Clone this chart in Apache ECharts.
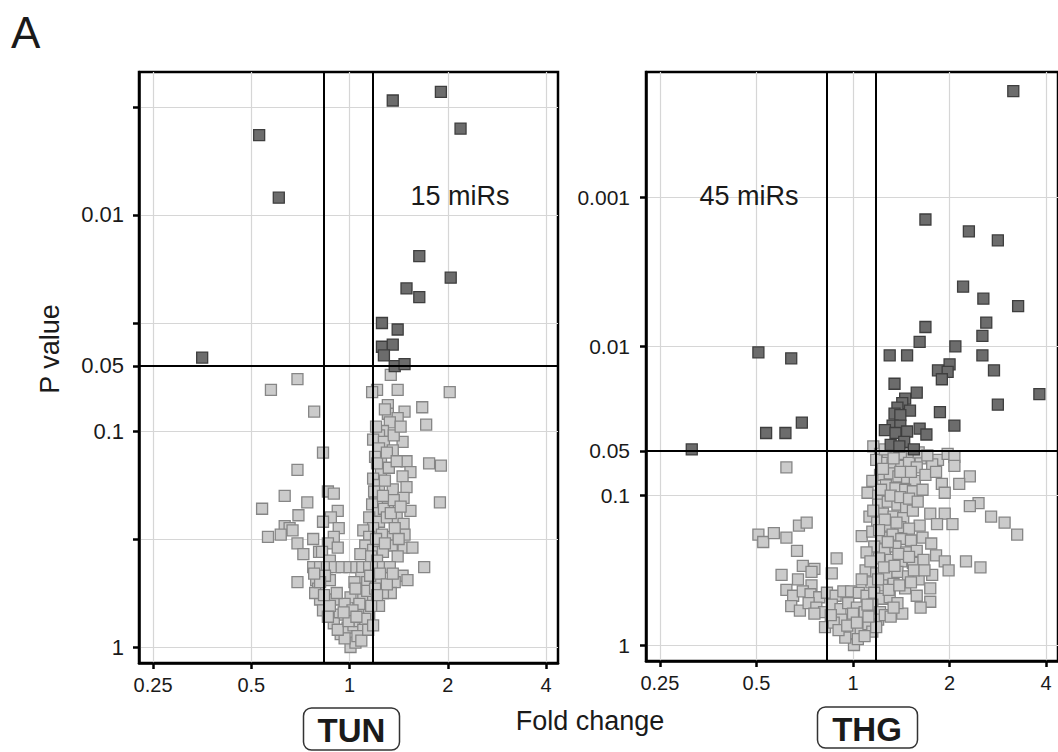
<!DOCTYPE html>
<html><head><meta charset="utf-8">
<script src="https://cdn.jsdelivr.net/npm/echarts@6/dist/echarts.min.js"></script>
<style>html,body{margin:0;padding:0;background:#fff}#c{width:1058px;height:752px}</style>
</head><body><div id="c"></div><script>
// ---- tick values / labels (x: log2 fold change, y: -log10 P) ----
const xTickValues = [-2, -1, 0, 1, 2];
const xTickLabels = ['0.25', '0.5', '1', '2', '4'];
const tunYTickValues = [0, 0.5, 1, 1.301, 1.5, 2, 2.5];
const tunYLabelValues = [0, 1, 1.301, 2];
const thgYTickValues = [0, 1, 1.301, 2, 3];
const thgYLabelValues = [0, 1, 1.301, 2, 3];
const yLabelValues = [0, 1, 1.301, 2, 3];
const yLabelTexts = ['1', '0.1', '0.05', '0.01', '0.001'];
// ---- cutoffs ----
const tunFcCutoffs = [-0.255, 0.245];
const thgFcCutoffs = [-0.267, 0.236];
const pCutoff = 1.301;
// ---- annotations ----
const tunCount = '15 miRs';
const thgCount = '45 miRs';

// ---- TUN panel: [log2 fold change, -log10 P] ----
const tunSig = [
[0.44,2.53],[0.93,2.57],[1.13,2.40],[-0.92,2.37],[-0.72,2.08],[0.71,1.81],[1.03,1.71],[0.58,1.66],
[0.71,1.62],[0.33,1.50],[0.49,1.47],[0.33,1.39],[0.44,1.40],[0.35,1.35],[0.46,1.30],[0.56,1.31],[-1.50,1.34]
];
const tunNonSig = [
[-0.53,1.24],[-0.80,1.19],[-0.36,1.09],[0.42,1.26],[0.28,1.19],[0.23,1.18],[0.49,1.19],[1.02,1.18],
[0.74,1.11],[0.39,1.12],[0.56,1.09],[0.39,1.08],[0.49,1.06],[0.41,1.04],[0.78,1.03],[0.34,1.00],[0.30,0.98],
[0.24,0.96],[0.54,0.95],[0.35,0.95],[0.44,0.91],[0.30,0.92],[-0.27,0.90],[0.58,0.86],[0.81,0.85],[0.93,0.84],
[0.62,0.81],[-0.53,0.82],[0.32,0.86],[0.32,0.81],[0.24,0.78],[0.54,0.79],[0.40,0.83],[0.26,0.88],[0.58,0.74],
[0.44,0.73],[0.30,0.75],[0.36,0.77],
[-0.66,0.70],[-0.22,0.72],[-0.16,0.71],[-0.43,0.67],[-0.89,0.64],[0.55,0.69],[0.92,0.67],[0.39,0.67],
[0.62,0.63],[-0.52,0.61],[-0.12,0.63],[-0.19,0.60],[-0.27,0.58],[-0.11,0.55],[-0.66,0.56],[-0.61,0.55],
[0.26,0.70],[0.23,0.66],[0.29,0.62],[0.35,0.64],[0.45,0.68],[0.48,0.60],[0.20,0.60],[0.30,0.58],[0.38,0.60],
[0.55,0.57],[0.24,0.55],
[-0.83,0.51],[-0.53,0.48],[-0.37,0.50],[-0.47,0.43],[-0.31,0.44],[-0.16,0.51],[-0.22,0.48],[0.14,0.54],
[0.20,0.51],[0.39,0.51],[0.56,0.52],[0.55,0.46],[0.64,0.46],[0.16,0.47],[0.24,0.45],[0.30,0.49],[0.43,0.47],
[0.34,0.44],[-0.12,0.46],[-0.70,0.52],[-0.58,0.54],[0.11,0.43],[0.49,0.42],[0.33,0.52],[0.46,0.55],[-0.28,0.44],
[-0.20,0.40],[0.22,0.42],[0.28,0.40],
[-0.37,0.37],[-0.30,0.37],[-0.23,0.37],[-0.15,0.37],[-0.08,0.37],[0.00,0.37],[0.07,0.37],[0.13,0.37],
[0.20,0.37],[0.27,0.37],[0.34,0.37],[0.41,0.37],[0.76,0.37],[0.54,0.33],[0.59,0.31],[-0.53,0.30],[-0.34,0.31],
[-0.32,0.27],[-0.20,0.31],[0.12,0.32],[0.18,0.30],[0.27,0.31],[0.46,0.30],[-0.25,0.33],[0.05,0.30],
[-0.30,0.22],[-0.35,0.25],[-0.27,0.17],[-0.16,0.22],[0.01,0.23],[0.14,0.23],[0.24,0.22],[0.42,0.25],
[0.34,0.25],[0.06,0.27],[0.18,0.26],[0.30,0.19],[-0.05,0.20],[0.09,0.18],[-0.10,0.15],[0.20,0.15],[0.00,0.14],
[0.10,0.20],[-0.20,0.19],[0.22,0.19],[0.03,0.17],[-0.13,0.25],[0.26,0.27],
[-0.16,0.11],[-0.09,0.06],[0.01,0.00],[0.06,0.02],[-0.02,0.09],[0.04,0.10],[0.10,0.12],[0.14,0.08],
[-0.05,0.04],[0.08,0.05],[-0.12,0.08],[0.16,0.13],[0.12,0.03],[-0.01,0.12],[0.19,0.08],
[0.27,1.02],[0.36,1.10],[0.45,0.98],[0.52,1.02],[0.28,0.85],[0.38,0.90],[0.48,0.86],[0.25,0.72],[0.34,0.70],
[0.42,0.62],[0.52,0.65],[0.27,0.50],[0.36,0.48],[0.50,0.50],[0.21,0.33],[0.31,0.34],[0.38,0.29],[0.44,0.34],
[-0.30,0.30],[-0.36,0.34],[-0.26,0.24],[-0.22,0.14],[0.28,0.24],[0.24,0.10],[-0.06,0.16],[0.07,0.14]
];

// ---- THG panel: [log2 fold change, -log10 P] ----
const thgSig = [
[1.66,3.71],[0.75,2.85],[1.20,2.77],[1.50,2.71],[1.14,2.40],[1.35,2.32],[1.71,2.27],[1.38,2.16],
[0.75,2.13],[0.69,2.03],[1.34,2.07],[1.06,2.00],[0.38,1.94],[0.56,1.94],[1.34,1.94],[-0.98,1.96],
[-0.64,1.92],[1.00,1.88],[0.88,1.84],[0.98,1.83],[0.92,1.78],[1.46,1.84],[0.43,1.75],[0.66,1.69],
[1.93,1.68],[1.50,1.61],[0.54,1.65],[0.51,1.62],[0.46,1.59],[0.59,1.57],[0.90,1.56],[0.43,1.55],
[-0.53,1.49],[0.49,1.54],[1.05,1.47],[0.41,1.47],[0.49,1.47],[0.33,1.44],[0.44,1.42],[0.56,1.43],
[0.69,1.45],[0.76,1.41],[0.53,1.36],[0.39,1.34],[0.48,1.33],[0.63,1.31],[-0.90,1.42],[-0.70,1.42],[-1.67,1.31]
];
const thgNonSig = [
[0.21,1.33],[-0.69,1.19],[0.28,1.28],[0.36,1.27],[0.45,1.29],[0.53,1.28],[0.61,1.27],[0.70,1.25],
[0.32,1.22],[0.41,1.21],[0.50,1.20],[0.58,1.22],[0.66,1.19],[0.88,1.24],[0.98,1.28],[1.05,1.26],[1.05,1.20],
[0.82,1.21],[1.21,1.13],[0.92,1.08],[0.95,1.02],[1.10,1.08],[0.28,1.14],[0.38,1.15],[0.47,1.13],[0.56,1.12],
[0.64,1.10],[0.75,1.14],[0.34,1.07],[0.44,1.05],[0.54,1.04],[0.62,1.03],[0.72,1.04],[0.15,1.02],[0.26,1.00],
[1.30,0.95],[1.21,0.93],[1.43,0.86],[1.57,0.82],[1.70,0.74],[0.95,0.88],[1.03,0.81],[0.80,0.88],[0.87,0.81],
[0.69,0.80],[0.17,0.86],[0.26,0.94],[0.36,0.96],[0.46,0.94],[0.55,0.92],[0.31,0.88],[0.42,0.86],[0.52,0.85],
[0.62,0.90],[0.25,0.82],[0.38,0.80],[0.49,0.79],[0.58,0.78],
[0.09,0.73],[0.20,0.76],[0.30,0.72],[0.41,0.74],[0.50,0.71],[0.60,0.70],[0.72,0.72],[0.81,0.68],[0.22,0.66],
[0.33,0.64],[0.44,0.66],[0.55,0.62],[0.66,0.63],[0.14,0.62],[0.27,0.58],[0.39,0.57],[0.50,0.56],[0.62,0.55],
[0.73,0.57],[0.86,0.60],
[-0.98,0.74],[-0.93,0.69],[-0.82,0.75],[-0.69,0.72],[-0.56,0.80],[-0.48,0.82],[-0.58,0.63],[-0.52,0.53],
[-0.40,0.51],[-0.43,0.49],[-0.17,0.58],[-0.74,0.47],[-0.57,0.44],[-0.22,0.48],[-0.43,0.40],
[1.17,0.56],[1.32,0.52],[0.95,0.56],[0.99,0.50],[0.13,0.50],[0.24,0.48],[0.35,0.46],[0.46,0.49],[0.57,0.46],
[0.68,0.44],[0.82,0.47],[0.19,0.42],[0.30,0.40],[0.42,0.41],[0.54,0.38],[0.80,0.38],[0.80,0.29],[0.09,0.44],
[-0.69,0.37],[-0.62,0.33],[-0.52,0.36],[-0.44,0.34],[-0.35,0.32],[-0.27,0.35],[-0.18,0.33],[-0.10,0.36],
[-0.02,0.36],[0.06,0.35],[0.14,0.33],[0.22,0.35],[0.30,0.31],[0.38,0.32],[-0.64,0.26],[-0.55,0.23],[-0.46,0.28],
[-0.38,0.25],[-0.30,0.22],[-0.22,0.27],[-0.13,0.24],[-0.05,0.28],[0.04,0.25],[0.12,0.22],[0.20,0.27],
[0.28,0.22],[0.70,0.25],[0.51,0.21],[0.46,0.28],
[-0.12,0.17],[-0.29,0.12],[-0.20,0.15],[-0.02,0.08],[0.01,0.00],[0.08,0.10],[0.26,0.17],[0.33,0.20],
[0.39,0.19],[0.16,0.14],[0.20,0.09],[-0.08,0.05],[0.05,0.04],[-0.15,0.10],[0.12,0.06],[0.24,0.12],
[0.24,1.24],[0.33,1.31],[0.42,1.25],[0.49,1.16],[0.60,1.16],[0.68,1.29],[0.77,1.27],[0.86,1.16],[0.31,1.18],
[0.20,1.10],[0.29,1.04],[0.39,1.00],[0.49,0.99],[0.58,0.98],[0.67,0.96],[0.21,0.90],[0.33,0.84],[0.45,0.82],
[0.27,0.77],[0.36,0.69],[0.47,0.61],[0.58,0.59],[0.18,0.56],[0.32,0.52],[0.43,0.53],[0.63,0.50],[0.74,0.50],
[0.26,0.44],[0.37,0.37],[0.48,0.40],[0.60,0.42],[0.66,0.33],[0.42,0.25],[-0.40,0.21],[-0.23,0.20],[0.00,0.21],
[0.16,0.19],[-0.06,0.13],[0.04,0.15],[0.15,0.27]
];

const FONT = '"Liberation Sans", Arial, sans-serif';
const TXT = '#1a1a1a';
const xFmt = v => { const i = xTickValues.indexOf(Math.round(v)); return i >= 0 ? xTickLabels[i] : ''; };
const yFmt = v => { for (let i = 0; i < yLabelValues.length; i++) if (Math.abs(v - yLabelValues[i]) < 1e-6) return yLabelTexts[i]; return ''; };

function xAxisFor(gi, min, max) {
  return {
    type: 'value', gridIndex: gi, min: min, max: max,
    axisLine: { show: true, onZero: false, lineStyle: { color: '#000', width: 2.5 } },
    axisTick: { show: true, customValues: xTickValues, length: 6, lineStyle: { color: '#000', width: 2.5 } },
    axisLabel: { customValues: xTickValues, formatter: xFmt, margin: 12, fontSize: 20, fontFamily: FONT, color: TXT },
    splitLine: { show: true, lineStyle: { color: '#d6d6d6', width: 1.2 } }
  };
}
function yAxisFor(gi, min, max, ticks, labels, margin, fs) {
  return {
    type: 'value', gridIndex: gi, min: min, max: max,
    axisLine: { show: true, onZero: false, lineStyle: { color: '#000', width: 2.5 } },
    axisTick: { show: true, customValues: ticks, length: 6, lineStyle: { color: '#000', width: 2.5 } },
    axisLabel: { customValues: labels, formatter: yFmt, margin: margin, fontSize: fs, fontFamily: FONT, color: TXT },
    splitLine: { show: true, lineStyle: { color: '#d6d6d6', width: 1.2 } }
  };
}
const lightStyle = { color: '#cbcbcb', borderColor: '#868686', borderWidth: 1.3, opacity: 1 };
const darkStyle = { color: '#6c6c6c', borderColor: '#3e3e3e', borderWidth: 1.3, opacity: 1 };
function cutLines(fc) {
  return {
    silent: true, symbol: 'none', label: { show: false },
    lineStyle: { color: '#000', width: 2, type: 'solid' },
    emphasis: { disabled: true },
    data: [{ xAxis: fc[0] }, { xAxis: fc[1] }, { yAxis: pCutoff }]
  };
}

const chart = echarts.init(document.getElementById('c'), null, { renderer: 'svg' });
chart.setOption({
  animation: false,
  backgroundColor: '#fff',
  grid: [
    { left: 139, top: 72, width: 419, height: 591, show: true, borderColor: '#000', borderWidth: 2.5, backgroundColor: '#fff' },
    { left: 646, top: 72, width: 416, height: 589, show: true, borderColor: '#000', borderWidth: 2.5, backgroundColor: '#fff' }
  ],
  xAxis: [ xAxisFor(0, -2.143, 2.122), xAxisFor(1, -2.144, 2.123) ],
  yAxis: [
    yAxisFor(0, -0.074, 2.662, tunYTickValues, tunYLabelValues, 15, 22),
    yAxisFor(1, -0.107, 3.838, thgYTickValues, thgYLabelValues, 16, 21)
  ],
  series: [
    { type: 'scatter', xAxisIndex: 0, yAxisIndex: 0, symbol: 'rect', symbolSize: 11, itemStyle: lightStyle, data: tunNonSig, z: 2 },
    { type: 'scatter', xAxisIndex: 0, yAxisIndex: 0, symbol: 'rect', symbolSize: 11, itemStyle: darkStyle, data: tunSig, z: 3, markLine: cutLines(tunFcCutoffs) },
    { type: 'scatter', xAxisIndex: 1, yAxisIndex: 1, symbol: 'rect', symbolSize: 11, itemStyle: lightStyle, data: thgNonSig, z: 2 },
    { type: 'scatter', xAxisIndex: 1, yAxisIndex: 1, symbol: 'rect', symbolSize: 11, itemStyle: darkStyle, data: thgSig, z: 3, markLine: cutLines(thgFcCutoffs) }
  ],
  graphic: [
    { type: 'text', left: 11, top: 10, style: { text: 'A', font: '44px ' + FONT, fill: TXT } },
    { type: 'text', x: 460, y: 196, style: { text: tunCount, font: '27px ' + FONT, fill: TXT, align: 'center', verticalAlign: 'middle' }, z: 10 },
    { type: 'text', x: 749, y: 196, style: { text: thgCount, font: '27px ' + FONT, fill: TXT, align: 'center', verticalAlign: 'middle' }, z: 10 },
    { type: 'text', x: 50, y: 349, rotation: Math.PI / 2, style: { text: 'P value', font: '27px ' + FONT, fill: TXT, align: 'center', verticalAlign: 'middle' } },
    { type: 'text', x: 590, y: 721, style: { text: 'Fold change', font: '27px ' + FONT, fill: TXT, align: 'center', verticalAlign: 'middle' } },
    { type: 'rect', shape: { x: 303.5, y: 708, width: 96, height: 42, r: 8 }, style: { fill: '#fff', stroke: '#333', lineWidth: 1.5 } },
    { type: 'text', x: 351.5, y: 730, style: { text: 'TUN', font: 'bold 33px ' + FONT, fill: TXT, align: 'center', verticalAlign: 'middle' }, z: 10 },
    { type: 'rect', shape: { x: 817.5, y: 707, width: 100, height: 41, r: 8 }, style: { fill: '#fff', stroke: '#333', lineWidth: 1.5 } },
    { type: 'text', x: 867, y: 729, style: { text: 'THG', font: 'bold 33px ' + FONT, fill: TXT, align: 'center', verticalAlign: 'middle' }, z: 10 }
  ]
});
</script></body></html>
